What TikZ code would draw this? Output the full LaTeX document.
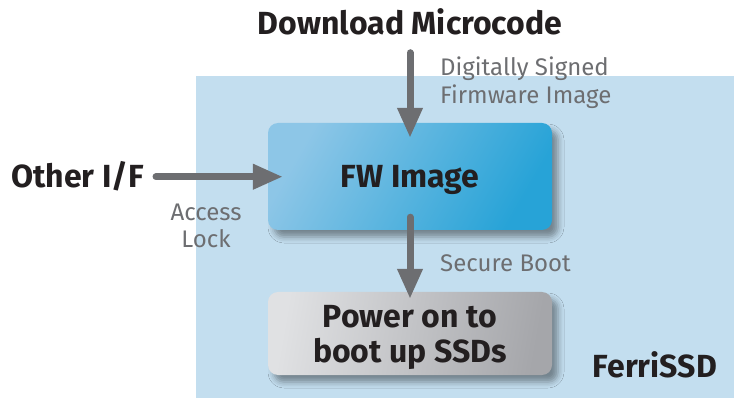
\documentclass[tikz,border=0pt]{standalone}
\usepackage{fontspec}
\setmainfont{Fira Sans}
\usetikzlibrary{arrows.meta,shadows.blur}
\definecolor{bgblue}{HTML}{C3DEEF}
\definecolor{fwA}{HTML}{8DC6E7}
\definecolor{fwB}{HTML}{27A3D7}
\definecolor{pwA}{HTML}{E0E1E3}
\definecolor{pwB}{HTML}{A5A6AA}
\definecolor{arrgray}{HTML}{6D6E71}
\definecolor{txtdark}{HTML}{231F20}
\tikzset{
  boxbase/.style={rounded corners=10pt, inner sep=0pt,
    blur shadow={shadow xshift=6pt, shadow yshift=-7pt, shadow blur radius=6pt, shadow opacity=40}},
  bigtxt/.style={font=\fontsize{32}{35}\selectfont\bfseries, text=txtdark, inner sep=0pt},
  smalltxt/.style={font=\fontsize{24}{28}\selectfont, text=arrgray, inner sep=0pt},
  arr/.style={draw=arrgray, line width=7pt, line cap=round,
    -{Triangle[length=30pt,width=24pt]}},
}
\begin{document}
\begin{tikzpicture}[x=1pt,y=-1pt]
\useasboundingbox (0,0) rectangle (734,398);
\fill[bgblue] (196,76) rectangle (734,398);
% boxes
\path[boxbase, top color=fwA, bottom color=fwB, shading angle=60]
  (268,123) rectangle (552,230);
\node[inner sep=0pt, minimum width=284pt, minimum height=107pt] (fw) at (410,176.5) {};
\path[boxbase, top color=pwA, bottom color=pwB, shading angle=80]
  (268,292) rectangle (552,375);
\node[inner sep=0pt, minimum width=284pt, minimum height=83pt] (pw) at (410,333.5) {};
% texts
\node[bigtxt, anchor=base] (fwt) at (410,188) {FW Image};
\node[bigtxt, anchor=base, align=center] (pwt) at (410,362) {Power on to\\boot up SSDs};
\node[bigtxt, anchor=base] (dl) at (410,35) {Download Microcode};
\node[bigtxt, anchor=base west] (oth) at (11,188) {Other I/F};
\node[bigtxt, anchor=base east] (fer) at (717,377) {FerriSSD};
\node[smalltxt, anchor=base west, align=left] (dsig) at (440,104) {Digitally Signed\\Firmware Image};
\node[smalltxt, anchor=base, align=center] (acc) at (206,248) {Access\\Lock};
\node[smalltxt, anchor=base west] (sb) at (440,272) {Secure Boot};
% arrows
\draw[arr, shorten <=17pt, shorten >=-15pt] (dl.south) -- (fw.north);
\draw[arr, shorten <=12pt, shorten >=-15pt] (oth.east) -- (fw.west |- oth.east);
\draw[arr, shorten <=-13pt, shorten >=-7pt] (fw.south) -- (pw.north);
\end{tikzpicture}
\end{document}
